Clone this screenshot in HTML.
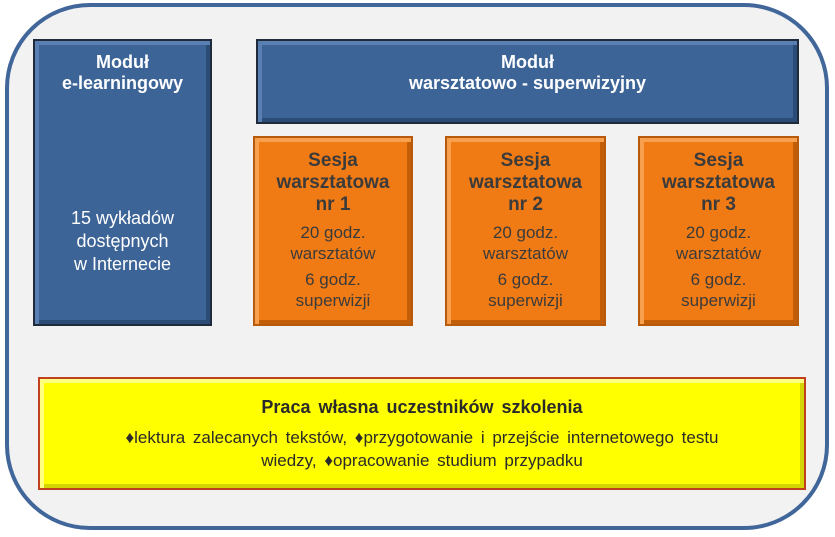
<!DOCTYPE html>
<html><head><meta charset="utf-8"><style>
body{margin:0;width:835px;height:537px;background:#fff;position:relative;overflow:hidden;font-family:"Liberation Sans",sans-serif}
.outer{position:absolute;left:5px;top:3px;width:816px;height:519px;border:4px solid #41669a;border-radius:85px;background:#f2f2f2;box-sizing:content-box}
.b{position:absolute;box-sizing:border-box;text-align:center}
.blue{background:#3d6497;border:2px solid #1f2a3a;color:#fff;box-shadow:inset 4px 4px 0 #5a80b3,inset -4px -4px 0 #2c4c78}
.or{background:#f07a14;border:2px solid #b85a0c;color:#3b3b3b;box-shadow:inset 4px 4px 0 #f7a050,inset -4px -4px 0 #c25e08}
.ye{background:#ffff00;border:2px solid #c04020;color:#2a2a2a;box-shadow:inset 4px 4px 0 #ffff80,inset -4px -4px 0 #d4d400}
.t{font-weight:bold;font-size:18px;line-height:21px}
.n{font-size:17px;line-height:21px}
</style></head><body>
<div class="outer"></div>
<div class="b blue" style="left:33px;top:39px;width:179px;height:287px">
<div class="t" style="margin-top:11px">Moduł<br>e-learningowy</div>
<div class="n" style="margin-top:113px;font-size:18px;line-height:23px">15 wykładów<br>dostępnych<br>w Internecie</div></div>
<div class="b blue" style="left:256px;top:39px;width:543px;height:85px">
<div class="t" style="margin-top:11px">Moduł<br>warsztatowo - superwizyjny</div></div>
<div class="b or" style="left:253px;top:136px;width:160px;height:190px"><div class="t" style="margin-top:12px;font-size:19px;line-height:22px">Sesja<br>warsztatowa<br>nr 1</div><div class="n" style="margin-top:6px">20 godz.<br>warsztatów</div><div class="n" style="margin-top:5px">6 godz.<br>superwizji</div></div>
<div class="b or" style="left:445px;top:136px;width:161px;height:190px"><div class="t" style="margin-top:12px;font-size:19px;line-height:22px">Sesja<br>warsztatowa<br>nr 2</div><div class="n" style="margin-top:6px">20 godz.<br>warsztatów</div><div class="n" style="margin-top:5px">6 godz.<br>superwizji</div></div>
<div class="b or" style="left:638px;top:136px;width:161px;height:190px"><div class="t" style="margin-top:12px;font-size:19px;line-height:22px">Sesja<br>warsztatowa<br>nr 3</div><div class="n" style="margin-top:6px">20 godz.<br>warsztatów</div><div class="n" style="margin-top:5px">6 godz.<br>superwizji</div></div>
<div class="b ye" style="left:38px;top:377px;width:768px;height:113px">
<div class="t" style="margin-top:18px;font-size:18px;word-spacing:3px">Praca własna uczestników szkolenia</div>
<div class="n" style="margin-top:8px;font-size:17px;line-height:23px;word-spacing:3px">♦lektura zalecanych tekstów, ♦przygotowanie i przejście internetowego testu<br>wiedzy, ♦opracowanie studium przypadku</div></div>
</body></html>
